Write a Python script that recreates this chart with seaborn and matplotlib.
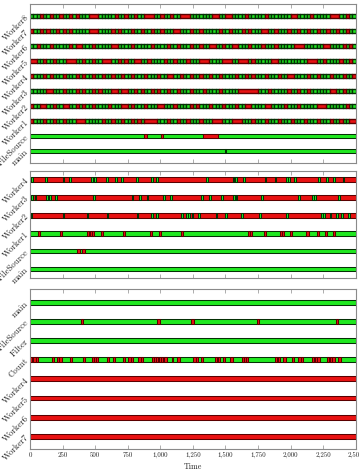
import numpy as np
import pandas as pd
import matplotlib
matplotlib.use("Agg")
import matplotlib.pyplot as plt
import matplotlib.transforms as mtransforms
import seaborn as sns
from matplotlib.ticker import FuncFormatter

sns.set_theme(style="white")
plt.rcParams['font.family'] = ['cmr10', 'DejaVu Serif']
plt.rcParams['axes.formatter.use_mathtext'] = True

# ---------------- data ----------------
SLOT = 25          # time units per character in slot timelines
T_MAX = 2500

# panel 1 : slot timelines (g = short green task, r = red / waiting)
p1_labels = ["Worker8", "Worker7", "Worker6", "Worker5", "Worker4",
             "Worker3", "Worker2", "Worker1", "FileSource", "main"]
p1_worker8 = "gggrggrggr" "ggrgrgggrr" "rgggggrggr" "ggrggrrrgg" "rggrggrrrg" "ggggggrrgg" "rrggggrggg" "ggrggggggg" "rrggggrggg" "ggrrrggrgg"
p1_worker7 = "rggrgrggrg" "rgrgggggrr" "rggggrgrgg" "grggrggrgg" "rgggrrgggr" "ggrgggggrg" "grgggrgrgg" "grrggrgggr" "ggrggrggrg" "grggrggrgg"
p1_worker6 = "ggrgggrggg" "ggrgrrgggr" "gggggrrggg" "grgggggrgg" "ggrggrgggr" "ggrggrrggr" "ggrrgggrgg" "grgggrgggg" "grrrgggggg" "rrggggrgrg"
p1_worker5 = "rrggrggrgg" "grrrggrggr" "ggrrrggrgr" "ggrrggrggg" "grggrgggrg" "ggrrrggggr" "rrggrrrgrg" "ggggrrgggg" "gggggrrrgg" "rggggrggrg"
p1_worker4 = "rgggrgrggg" "rgggrgrggr" "ggrggrggrg" "grgggrgggr" "ggrrggrggr" "ggrggrggrg" "gggrggrgrg" "ggrgggrggr" "rggggrggrg" "ggrgggrggr"
p1_worker3 = "gggggrrggg" "rgggrgrggr" "grgggrrgrr" "ggrgrggrgr" "ggrggrgggr" "gggrggggrg" "ggggrrrrrr" "gggrgggggr" "ggrggrgggg" "ggrrggrggg"
p1_worker2 = "rggrrggrgg" "rrggrgrggr" "ggggrgggrr" "grgggrgggr" "rgggrggggr" "grgggrgggr" "gggrggrrgg" "ggrrggggrg" "ggrgggggrr" "rggggggrgg"
p1_worker1 = "rgggrggrgg" "rgggrrrggg" "ggrggrggrg" "grgrgrrrrg" "ggrggrggrg" "ggrgggrrrg" "ggrrrgggrg" "ggrgggrggg" "rgggrgggrg" "ggrggrggrr"
# event rows: (base colour, [(start, duration, colour), ...])
p1_filesource = ("g", [(875, 25, "r"), (1003, 20, "r"), (1330, 110, "r")])
p1_main = ("g", [(1497, 6, "g")])

# panel 2
p2_labels = ["Worker4", "Worker3", "Worker2", "Worker1", "FileSource", "main"]
p2_worker4_green = [10, 115, 250, 300, 470, 495, 585, 650, 700, 815, 930, 968, 1350,
                    1555, 1572, 1635, 1800, 1878, 1965, 1982, 2030, 2210, 2275, 2325, 2400]
p2_worker3_green = [10, 35, 125, 145, 190, 485, 780, 835, 895, 1020, 1075, 1315, 1375,
                    1465, 1560, 1578, 1775, 2058, 2165, 2182, 2365]
p2_worker2_green = [5, 250, 435, 588, 818, 930, 970, 1162, 1195, 1212, 1240, 1290, 1425,
                    1495, 1622, 1758, 1968, 2232, 2250, 2300, 2352, 2390, 2440]
p2_worker1_red = [62, 232, 438, 458, 478, 548, 714, 924, 990, 1162, 1672, 1690, 1795,
                  1918, 1935, 1995, 2122, 2200, 2263, 2326]
p2_filesource_red = [362, 402]

# panel 3
p3_labels = ["main", "FileSource", "Filter", "Count", "Worker4", "Worker5", "Worker6", "Worker7"]
p3_filesource_red = [389, 977, 1236, 1740, 2345]
p3_count_red = [(3, 12), (26, 18), (45, 18), (166, 22), (205, 18), (225, 18), (307, 14),
                (409, 14), (473, 16), (490, 16), (508, 16), (589, 18), (640, 14), (716, 14),
                (755, 18), (777, 16), (831, 18), (852, 18), (934, 16), (952, 16), (970, 16),
                (988, 16), (1006, 16), (1026, 22), (1088, 12), (1126, 22), (1254, 18),
                (1274, 18), (1310, 20), (1420, 18), (1440, 18), (1479, 18), (1535, 20),
                (1625, 16), (1643, 16), (1660, 16), (1881, 18), (1900, 18), (1944, 18),
                (2009, 14), (2060, 18), (2080, 18), (2162, 20), (2184, 20), (2206, 20),
                (2277, 20), (2299, 20), (2321, 20), (2367, 18)]

x_ticks = list(range(0, 2501, 250))

# ---------------- styling ----------------
FILL = {"g": "#20e820", "r": "#e81212"}
EDGE = {"g": "#053005", "r": "#5a0000"}
LW = 0.75
LW_SLOT = 1.0
SPINE = "#8a8a8a"

W, H = 359, 475
fig = plt.figure(figsize=(W / 100, H / 100), dpi=100)


def px_axes(top, bottom):
    x0, x1 = 30, 355.7
    return fig.add_axes([x0 / W, 1 - bottom / H, (x1 - x0) / W, (bottom - top) / H])


def slot_runs(s):
    runs = []
    i = 0
    while i < len(s):
        c = s[i]
        if c == "r":
            j = i
            while j < len(s) and s[j] == "r":
                j += 1
            runs.append((i * SLOT, (j - i) * SLOT, "r"))
            i = j
        else:
            runs.append((i * SLOT, SLOT, "g"))
            i += 1
    return runs


def draw_row(ax, y, segs, h, lw=LW):
    for c in ("g", "r"):
        part = [(s, d) for s, d, cc in segs if cc == c]
        if part:
            ax.broken_barh(part, (y - h / 2, h), facecolors=FILL[c],
                           edgecolors=EDGE[c], linewidth=lw)


def draw_event_row(ax, y, base, events, h):
    draw_row(ax, y, [(0, T_MAX, base)], h)
    draw_row(ax, y, events, h)


label_shift = mtransforms.ScaledTranslation(0, -3.5 / 100, fig.dpi_scale_trans)


def style(ax, labels, ylim, last=False):
    ax.set_xlim(0, T_MAX)
    ax.set_ylim(*ylim)
    ax.set_yticks(range(len(labels)))
    ax.set_yticklabels(labels, rotation=45, ha="right", va="center",
                       rotation_mode="anchor", fontsize=6.3)
    for lab in ax.get_yticklabels():
        lab.set_transform(lab.get_transform() + label_shift)
    ax.tick_params(axis="y", length=0, pad=2)
    ax.set_xticks(x_ticks)
    ax.tick_params(axis="x", direction="in", top=True, bottom=True, length=3,
                   width=0.6, color="#a0a0a0", labelsize=5, pad=2,
                   labelbottom=last)
    ax.xaxis.set_major_formatter(FuncFormatter(lambda v, p: f"{int(v):,}"))
    for sp in ax.spines.values():
        sp.set_color(SPINE)
        sp.set_linewidth(0.8)
    ax.set_facecolor("white")


# panel 1
ax1 = px_axes(3.5, 163)
sp1 = 15.0
h1 = 4.8 / sp1
for i, s in enumerate([p1_worker8, p1_worker7, p1_worker6, p1_worker5,
                       p1_worker4, p1_worker3, p1_worker2, p1_worker1]):
    draw_row(ax1, i, slot_runs(s), h1, lw=LW_SLOT)
draw_event_row(ax1, 8, p1_filesource[0], p1_filesource[1], h1)
draw_event_row(ax1, 9, p1_main[0], p1_main[1], h1)
style(ax1, p1_labels, (9 + 12 / sp1, -12.5 / sp1))

# panel 2
ax2 = px_axes(171, 278)
sp2 = 17.94
h2 = 4.8 / sp2
draw_event_row(ax2, 0, "r", [(t, 14, "g") for t in p2_worker4_green], h2)
draw_event_row(ax2, 1, "r", [(t, 14, "g") for t in p2_worker3_green], h2)
draw_event_row(ax2, 2, "r", [(t, 14, "g") for t in p2_worker2_green], h2)
draw_event_row(ax2, 3, "g", [(t, 16, "r") for t in p2_worker1_red], h2)
draw_event_row(ax2, 4, "g", [(t, 20, "r") for t in p2_filesource_red], h2)
draw_event_row(ax2, 5, "g", [], h2)
style(ax2, p2_labels, (5 + 9 / sp2, -8.3 / sp2))

# panel 3
ax3 = px_axes(289, 449)
sp3 = 19.14
h3 = 4.8 / sp3
draw_event_row(ax3, 0, "g", [], h3)
draw_event_row(ax3, 1, "g", [(t, 20, "r") for t in p3_filesource_red], h3)
draw_event_row(ax3, 2, "g", [], h3)
draw_event_row(ax3, 3, "g", [(s, d, "r") for s, d in p3_count_red], h3)
for i in range(4, 8):
    draw_event_row(ax3, i, "r", [], h3)
style(ax3, p3_labels, (7 + 12.7 / sp3, -13.3 / sp3), last=True)
ax3.set_xlabel("Time", fontsize=5.8, labelpad=3)

fig.savefig("out.png", dpi=100)
